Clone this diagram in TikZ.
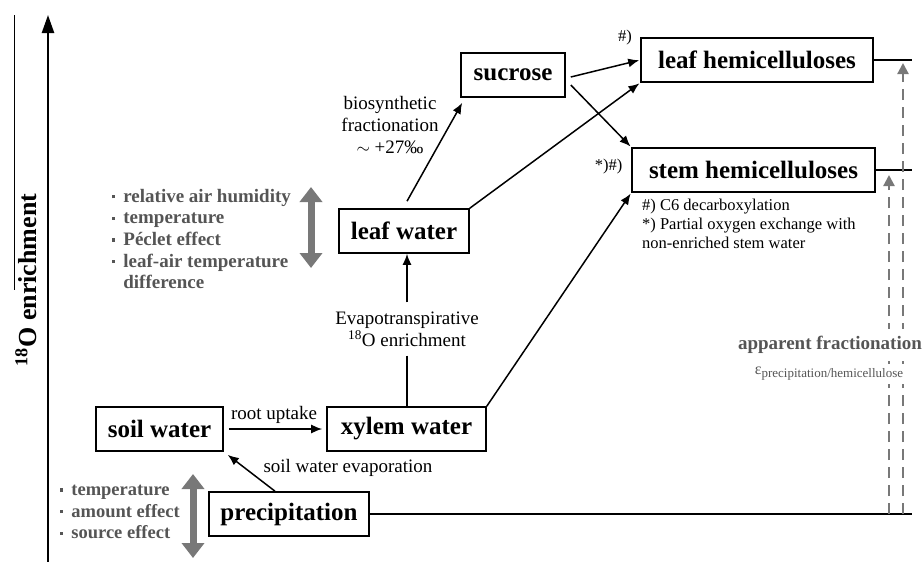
\documentclass[tikz,border=0pt]{standalone}
\usepackage{fontspec}
\setmainfont{Liberation Serif}
\usepackage{tikz}
\usepackage{xcolor}
\usetikzlibrary{arrows.meta, positioning, calc}
\definecolor{gtxt}{RGB}{85,85,85}
\definecolor{garr}{RGB}{120,120,120}
\newcommand{\pfont}{\fontsize{25}{30}\selectfont\bfseries}
\newcommand{\lfont}{\fontsize{19}{22}\selectfont}
\newcommand{\nfont}{\fontsize{16.5}{19}\selectfont}
\newcommand{\gfont}{\fontsize{19}{21.6}\selectfont\bfseries}
\newcommand{\gbul}{\raisebox{4pt}{\rule{3.2pt}{3.2pt}}\hspace{8pt}}
\tikzset{
  pool/.style={draw, line width=1.6pt, minimum height=44pt, inner xsep=11pt,
    inner ysep=0pt, font=\pfont},
  flow/.style={line width=1.5pt, -{Latex[length=11pt,width=9pt]}},
  flowline/.style={line width=1.5pt},
  glist/.style={text=gtxt, font=\gfont, align=left, inner sep=0pt, anchor=north west},
  garrow/.style={draw=garr, line width=7pt,
    {Triangle[length=15pt,width=22pt]}-{Triangle[length=15pt,width=22pt]}},
  frac/.style={draw=garr, line width=2.2pt, dash pattern=on 11pt off 7pt,
    -{Triangle[length=11pt,width=11pt]}}
}

\begin{document}
\begin{tikzpicture}[x=1pt, y=-1pt, every node/.style={font=\lfont}]
\useasboundingbox (0,0) rectangle (922,562);
% enrichment axis
\coordinate (ybot) at (48,562);
\coordinate (ytop) at (48,15);
\draw[line width=2.4pt, -{Triangle[length=18pt,width=12pt]}] (ybot) -- (ytop);
\draw[line width=0.9pt] (14,15) -- (14,290);
\node[rotate=90, font=\fontsize{26}{30}\selectfont\bfseries] (ylab) at (26,280)
  {\textsuperscript{18}O enrichment};
% pools
\node[pool, minimum width=127pt] (soil) at (159.5,429) {soil water};
\node[pool, minimum width=159pt] (xyl)  at (406.5,429) {xylem water};
\node[pool, minimum width=160pt] (prec) at (289,514) {precipitation};
\node[pool, minimum width=130pt] (leaf) at (404,231) {leaf water};
\node[pool, minimum width=104pt] (suc)  at (513,75) {sucrose};
\node[pool, minimum width=232pt] (lhem) at (757,60) {leaf hemicelluloses};
\node[pool, minimum width=243pt] (shem) at (753.5,170) {stem hemicelluloses};
% water fluxes
\draw[flow, shorten <=5pt, shorten >=4pt] (soil.east) -- (xyl.west);
\node (root) at (274,415) {root uptake};
\draw[flow, shorten >=5pt] ([xshift=-14pt]prec.north) -- (soil.south east);
\node[anchor=west] (evs) at (260,468) {soil water evaporation};
\node[align=center, inner ysep=9pt] (evap) at (407,329)
  {Evapotranspirative\\\textsuperscript{18}O enrichment};
\draw[flowline] (evap.south) -- (evap.south |- xyl.north);
\draw[flow] (evap.north) -- (evap.north |- leaf.south);
% biosynthesis
\node[align=center] (bio) at (390,125) {biosynthetic\\fractionation\\$\sim$ +27‰};
\draw[flow] ([xshift=3pt,yshift=7pt]leaf.north) -- ([xshift=2pt,yshift=-5pt]suc.south west);
\draw[flow, shorten >=1pt] (leaf.north east) -- (lhem.south west);
\draw[flow, shorten >=1pt] ([xshift=5pt,yshift=-2pt]suc.east) -- (lhem.west);
\draw[flow, shorten >=1pt] ([xshift=5pt,yshift=-10pt]suc.east) -- (shem.north west);
\draw[flow, shorten >=1pt] (xyl.north east) -- (shem.south west);
% notes
\node[font=\nfont] (nl) at (625,38) {\#)};
\node[font=\nfont, anchor=east] (ns) at (626,167) {*)\#)};
\node[font=\nfont, align=left, anchor=north west, inner sep=0pt] (foot) at (642,199)
  {\#) C6 decarboxylation\\{*)} Partial oxygen exchange with\\non-enriched stem water};
% controlling factors
\node[glist] (clim) at (112,189) {\gbul relative air humidity\\\gbul temperature\\
  \gbul Péclet effect\\\gbul leaf-air temperature\\\hspace*{11.2pt}difference};
\node[glist, font=\fontsize{18.5}{21.6}\selectfont\bfseries] (src) at (60,485)
  {\gbul temperature\\\gbul amount effect\\\gbul source effect};
\coordinate (g1t) at (311,187);
\coordinate (g1b) at (311,268);
\draw[garrow] (g1t) -- (g1b);
\coordinate (g2t) at (193,474);
\coordinate (g2b) at (193,558);
\draw[garrow] (g2t) -- (g2b);
% apparent fractionation
\coordinate (lend) at (912,60);
\coordinate (send) at (912,170);
\coordinate (pend) at (912,514);
\draw[flowline] (lhem.east) -- (lend);
\draw[flowline] (shem.east) -- (send);
\draw[flowline] (prec.east) -- (pend);
\coordinate (dl) at (889,514);
\coordinate (dr) at (903,514);
\draw[frac, shorten >=5pt] (dl) -- (dl |- send);
\draw[frac, shorten >=3pt] (dr) -- (dr |- lend);
\node[fill=white, text=gtxt, inner xsep=1pt, inner ysep=3pt] (eps) at (829,374)
  {\fontsize{16}{16}\selectfont ε\raisebox{-3pt}{\fontsize{13}{13}\selectfont precipitation/hemicellulose}};
\node[fill=white, text=gtxt, font=\gfont, inner xsep=2pt, inner ysep=7pt] (appf) at (830,345)
  {apparent fractionation};
\end{tikzpicture}
\end{document}
